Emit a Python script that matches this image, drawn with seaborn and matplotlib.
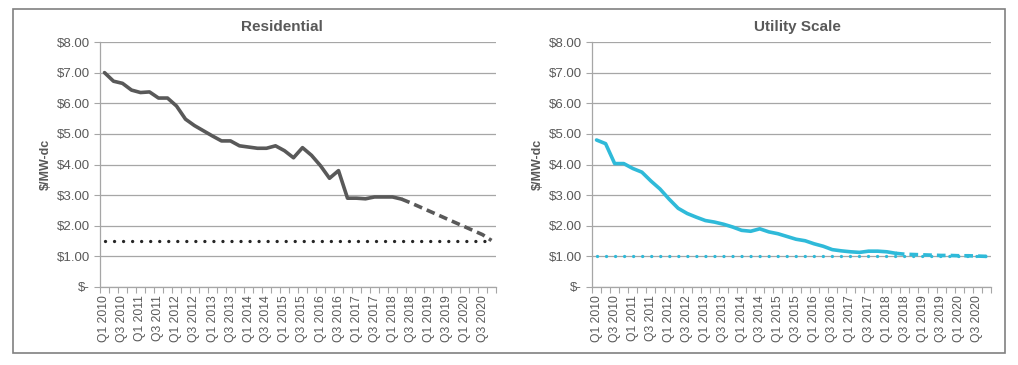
import numpy as np
import pandas as pd
import seaborn as sns
import matplotlib.pyplot as plt
from matplotlib.patches import Rectangle

# quarters Q1 2010 .. Q4 2020
quarters = [f"Q{q} {y}" for y in range(2010, 2021) for q in range(1, 5)]

# Residential, $/W-dc (historical, solid)
res_hist = [7.00, 6.72, 6.65, 6.43, 6.35, 6.37, 6.17, 6.17, 5.91, 5.48,
            5.27, 5.10, 4.93, 4.77, 4.77, 4.61, 4.57, 4.53, 4.53, 4.61,
            4.45, 4.22, 4.55, 4.30, 3.96, 3.55, 3.80, 2.90, 2.90, 2.88,
            2.94, 2.94, 2.94, 2.87]
# Residential projection (dashed), from Q2 2018
res_proj = [2.87, 2.75, 2.62, 2.49, 2.36, 2.23, 2.10, 1.97, 1.84, 1.71, 1.52]
res_target = 1.50

# Utility scale, $/W-dc
util_hist = [4.80, 4.68, 4.03, 4.03, 3.87, 3.75, 3.46, 3.20, 2.87, 2.57,
             2.40, 2.28, 2.17, 2.12, 2.05, 1.96, 1.85, 1.82, 1.90, 1.80,
             1.74, 1.65, 1.56, 1.51, 1.41, 1.33, 1.22, 1.18, 1.15, 1.13,
             1.17, 1.17, 1.15, 1.10]
util_proj = [1.10, 1.07, 1.06, 1.05, 1.04, 1.03, 1.03, 1.02, 1.02, 1.01, 1.00]
util_target = 1.00

sns.set_style("white")
plt.rcParams["font.family"] = ["Liberation Sans", "DejaVu Sans"]

TXT = "#595959"
GRID = "#a6a6a6"

fig = plt.figure(figsize=(10.18, 3.65), dpi=100)
fig.patches.append(Rectangle((13 / 1018, 1 - 353 / 365), 992 / 1018, 344 / 365,
                             transform=fig.transFigure, fill=False,
                             edgecolor="#808080", linewidth=1.2))

ax1 = fig.add_axes([100 / 1018, 1 - 287 / 365, 396 / 1018, 245 / 365])
ax2 = fig.add_axes([592 / 1018, 1 - 287 / 365, 399 / 1018, 245 / 365])

n = len(quarters)
idx = np.arange(n)
start = len(res_hist) - 1


def draw(ax, hist, proj, target, color, tcolor, title, tx):
    sns.lineplot(x=idx[:len(hist)], y=hist, ax=ax, color=color, lw=2.6,
                 solid_joinstyle="round")
    sns.lineplot(x=idx[start:start + len(proj)], y=proj, ax=ax, color=color,
                 lw=2.6, linestyle=(0, (2.4, 1.4)))
    sns.lineplot(x=idx, y=[target] * n, ax=ax, color=tcolor, lw=2.4,
                 linestyle=(0, (0.01, 2.7)), dash_capstyle="round")
    ax.set_xlim(-0.5, n - 0.5)
    ax.set_ylim(0, 8)
    ax.set_yticks(range(0, 9))
    ax.set_yticklabels(["$-"] + [f"${v}.00" for v in range(1, 9)])
    ax.set_xticks(idx[::2])
    ax.set_xticklabels(quarters[::2], rotation=90)
    ax.set_xticks(np.arange(-0.5, n, 1), minor=True)
    ax.tick_params(axis="x", which="major", length=0, pad=6, labelsize=8.7,
                   colors=TXT)
    ax.tick_params(axis="x", which="minor", length=4, width=0.8, color=GRID,
                   direction="out", bottom=True)
    ax.tick_params(axis="y", length=4, width=0.8, color=GRID, pad=3,
                   labelsize=9.5, labelcolor=TXT, left=True)
    ax.grid(axis="y", color=GRID, lw=0.9)
    ax.set_axisbelow(True)
    for s in ["top", "right"]:
        ax.spines[s].set_visible(False)
    for s in ["left", "bottom"]:
        ax.spines[s].set_color(GRID)
        ax.spines[s].set_linewidth(0.9)
    ax.set_ylabel("$/MW-dc", fontsize=9, fontweight="bold", color=TXT,
                  labelpad=4)
    ax.set_xlabel("")
    ax.set_title(title, fontsize=11, fontweight="bold", color=TXT, x=tx,
                 pad=8)


draw(ax1, res_hist, res_proj, res_target, "#595959", "#262626",
     "Residential", 0.46)
draw(ax2, util_hist, util_proj, util_target, "#2fbad9", "#2fbad9",
     "Utility Scale", 0.516)

fig.savefig("out.png", dpi=100)
